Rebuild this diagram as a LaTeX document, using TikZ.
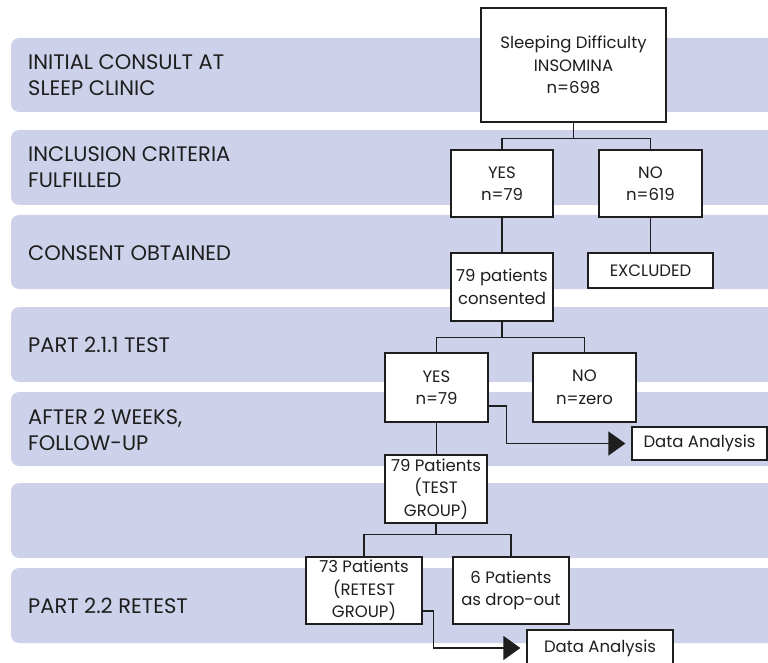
\documentclass[tikz,border=0pt]{standalone}
\usepackage{fontspec}
\setmainfont{Poppins}
\usetikzlibrary{arrows.meta}
\definecolor{bandfill}{HTML}{CDD1EA}
\definecolor{ink}{HTML}{1E1E1E}
\begin{document}
\begin{tikzpicture}[x=1pt,y=-1pt,
  band/.style={fill=bandfill,rounded corners=8pt},
  stage/.style={anchor=west,align=left,inner sep=0,text=ink,
    font=\fontsize{21}{26}\selectfont},
  box/.style={draw=ink,fill=white,line width=1.3pt,align=center,inner sep=0,
    text=ink,font=\fontsize{16.5}{22.5}\selectfont},
  link/.style={draw=ink,line width=1.3pt},
  arrowlink/.style={link,-{Triangle[length=17pt,width=24pt]},shorten >=6pt}]
\useasboundingbox (0,0) rectangle (768,663);
\clip (0,0) rectangle (768,663);

% stage bands
\fill[band] (11,38) rectangle (790,112);
\fill[band] (11,130) rectangle (790,205);
\fill[band] (11,215) rectangle (790,289);
\fill[band] (11,307) rectangle (790,382);
\fill[band] (11,392) rectangle (790,466);
\fill[band] (11,483) rectangle (790,558);
\fill[band] (11,568) rectangle (790,643);

% stage labels
\node[stage] (s1) at (28,75) {INITIAL CONSULT AT\\SLEEP CLINIC};
\node[stage] (s2) at (28,167) {INCLUSION CRITERIA\\FULFILLED};
\node[stage] (s3) at (28,253) {CONSENT OBTAINED};
\node[stage] (s4) at (28,345) {PART 2.1.1 TEST};
\node[stage] (s5) at (28,430) {AFTER 2 WEEKS,\\FOLLOW-UP};
\node[stage] (s7) at (28,606) {PART 2.2 RETEST};

% flow boxes
\node[box,minimum width=185pt,minimum height=114pt] (top) at (573.5,65)
  {Sleeping Difficulty\\INSOMINA\\n=698};
\node[box,minimum width=102pt,minimum height=67pt] (yes1) at (502,183.5) {YES\\n=79};
\node[box,minimum width=103pt,minimum height=67pt] (no1) at (650.5,183.5) {NO\\n=619};
\node[box,minimum width=125pt,minimum height=35pt] (excl) at (650.5,270.5) {EXCLUDED};
\node[box,minimum width=102pt,minimum height=68pt] (cons) at (502,287)
  {79 patients\\consented};
\node[box,minimum width=103pt,minimum height=69pt] (yes2) at (436.5,387.5) {YES\\n=79};
\node[box,minimum width=103pt,minimum height=69pt] (no2) at (584.5,387.5) {NO\\n=zero};
\node[box,minimum width=135pt,minimum height=33pt] (da1) at (699.5,443.5) {Data Analysis};
\node[box,minimum width=102pt,minimum height=68pt] (testg) at (436,489)
  {79 Patients\\(TEST\\GROUP)};
\node[box,minimum width=116pt,minimum height=67pt] (retest) at (364,590.5)
  {73 Patients\\(RETEST\\GROUP)};
\node[box,minimum width=116pt,minimum height=67pt] (drop) at (511,590.5)
  {6 Patients\\as drop-out};
\node[box,minimum width=146pt,minimum height=36pt] (da2) at (600,648) {Data Analysis};

% connectors
\draw[link] (top.south) -- ++(0,16) coordinate (f1);
\draw[link] (yes1.north) |- (f1) -| (no1.north);
\draw[link] (yes1.south) -- (cons.north);
\draw[link] (no1.south) -- (excl.north);
\draw[link] (cons.south) -- ++(0,16) coordinate (f2);
\draw[link] (yes2.north) |- (f2) -| (no2.north);
\draw[link] (yes2.south) -- (yes2.south |- testg.north);
\draw[link] (testg.south) -- ++(0,11) coordinate (f3);
\draw[link] (retest.north) |- (f3) -| (drop.north);
\draw[arrowlink] (yes2.east) ++(0,18.5) -- ++(18,0) |- (da1.west);
\draw[arrowlink] (retest.east) ++(0,20.5) -- ++(11,0) |- (da2.west);
\end{tikzpicture}
\end{document}
